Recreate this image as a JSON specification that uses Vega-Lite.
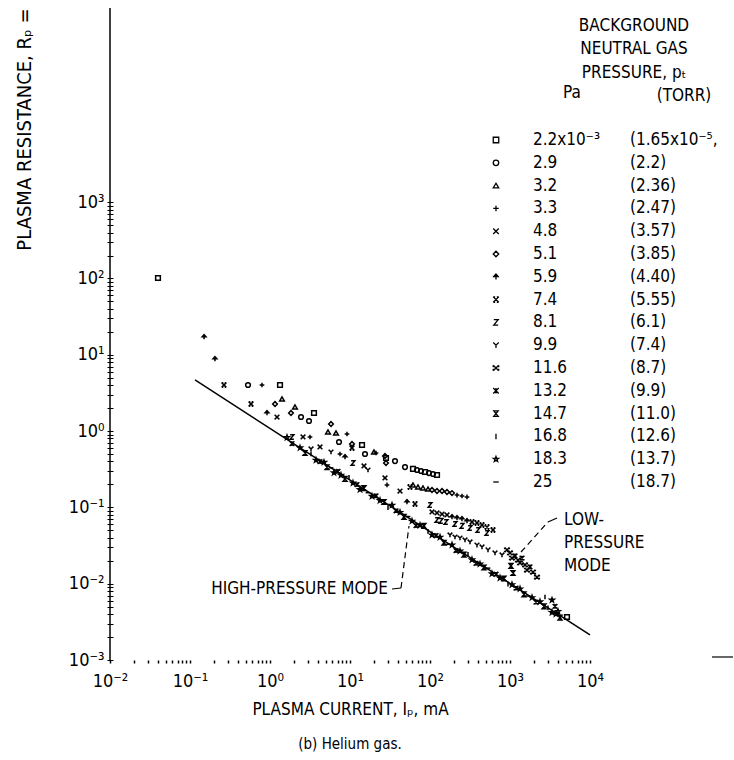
{
  "$schema": "https://vega.github.io/schema/vega-lite/v6.json",
  "width": 480,
  "height": 652,
  "autosize": {"type": "none"},
  "padding": {"left": 110, "top": 8, "right": 144, "bottom": 100},
  "background": "white",
  "title": {"text": "(b) Helium gas.", "orient": "bottom", "anchor": "middle", "fontSize": 15, "fontWeight": "normal", "color": "black", "offset": 20, "font": "DejaVu Sans Condensed, DejaVu Sans, sans-serif"},
  "config": {
    "view": {"stroke": null},
    "font": "DejaVu Sans Condensed, DejaVu Sans, sans-serif",
    "text": {"font": "DejaVu Sans Condensed, DejaVu Sans, sans-serif", "color": "black", "fontSize": 17},
    "axis": {"labelFont": "DejaVu Sans Condensed, DejaVu Sans, sans-serif", "titleFont": "DejaVu Sans Condensed, DejaVu Sans, sans-serif", "labelColor": "black", "titleColor": "black", "grid": false, "titleFontWeight": "normal"}
  },
  "datasets": {
    "points": [
      {"p": "2.2e-3", "I": 0.0398, "R": 101.5}, {"p": "2.2e-3", "I": 1.334, "R": 4.02}, {"p": "2.2e-3", "I": 3.548, "R": 1.727}, {"p": "2.2e-3", "I": 14.13, "R": 0.657}, {"p": "2.2e-3", "I": 28.18, "R": 0.444}, {"p": "2.2e-3", "I": 61.31, "R": 0.319}, {"p": "2.2e-3", "I": 86.6, "R": 0.291}, {"p": "2.2e-3", "I": 122.3, "R": 0.266}, {"p": "2.2e-3", "I": 5158, "R": 0.00366},
      {"p": "2.9", "I": 0.531, "R": 4.02}, {"p": "2.9", "I": 2.441, "R": 1.53}, {"p": "2.9", "I": 3.073, "R": 1.356}, {"p": "2.9", "I": 7.286, "R": 0.72}, {"p": "2.9", "I": 15.4, "R": 0.501}, {"p": "2.9", "I": 36.52, "R": 0.405}, {"p": "2.9", "I": 48.7, "R": 0.338}, {"p": "2.9", "I": 68.79, "R": 0.309}, {"p": "2.9", "I": 77.18, "R": 0.3}, {"p": "2.9", "I": 97.16, "R": 0.282}, {"p": "2.9", "I": 109.0, "R": 0.274},
      {"p": "3.2", "I": 1.413, "R": 2.634}, {"p": "3.2", "I": 2.053, "R": 2.07}, {"p": "3.2", "I": 5.309, "R": 0.973}, {"p": "3.2", "I": 6.683, "R": 0.944}, {"p": "3.2", "I": 19.95, "R": 0.532}, {"p": "3.2", "I": 61.31, "R": 0.197}, {"p": "3.2", "I": 70.79, "R": 0.185}, {"p": "3.2", "I": 81.75, "R": 0.18}, {"p": "3.2", "I": 94.41, "R": 0.174},
      {"p": "3.3", "I": 0.794, "R": 4.02}, {"p": "3.3", "I": 3.162, "R": 0.837}, {"p": "3.3", "I": 9.173, "R": 0.916}, {"p": "3.3", "I": 7.499, "R": 0.501}, {"p": "3.3", "I": 21.13, "R": 0.516}, {"p": "3.3", "I": 29.0, "R": 0.197}, {"p": "3.3", "I": 217.5, "R": 0.145}, {"p": "3.3", "I": 251.2, "R": 0.141}, {"p": "3.3", "I": 290.0, "R": 0.137},
      {"p": "4.8", "I": 1.223, "R": 1.53}, {"p": "4.8", "I": 2.585, "R": 0.837}, {"p": "4.8", "I": 4.217, "R": 0.619}, {"p": "4.8", "I": 14.96, "R": 0.349}, {"p": "4.8", "I": 27.38, "R": 0.243}, {"p": "4.8", "I": 42.17, "R": 0.164}, {"p": "4.8", "I": 105.9, "R": 0.0871}, {"p": "4.8", "I": 122.3, "R": 0.0845}, {"p": "4.8", "I": 141.3, "R": 0.0819}, {"p": "4.8", "I": 163.1, "R": 0.0795},
      {"p": "5.1", "I": 1.155, "R": 2.266}, {"p": "5.1", "I": 1.83, "R": 1.727}, {"p": "5.1", "I": 5.788, "R": 1.239}, {"p": "5.1", "I": 10.59, "R": 0.677}, {"p": "5.1", "I": 27.38, "R": 0.472}, {"p": "5.1", "I": 28.18, "R": 0.382}, {"p": "5.1", "I": 105.9, "R": 0.169}, {"p": "5.1", "I": 122.3, "R": 0.164}, {"p": "5.1", "I": 141.3, "R": 0.164}, {"p": "5.1", "I": 163.1, "R": 0.159}, {"p": "5.1", "I": 188.4, "R": 0.154},
      {"p": "5.9", "I": 0.15, "R": 17.11}, {"p": "5.9", "I": 0.205, "R": 8.81}, {"p": "5.9", "I": 0.917, "R": 1.727}, {"p": "5.9", "I": 8.66, "R": 0.458}, {"p": "5.9", "I": 51.58, "R": 0.1177}, {"p": "5.9", "I": 188.4, "R": 0.0748}, {"p": "5.9", "I": 217.5, "R": 0.0726}, {"p": "5.9", "I": 251.2, "R": 0.0705}, {"p": "5.9", "I": 290.0, "R": 0.0664},
      {"p": "7.4", "I": 0.266, "R": 4.02}, {"p": "7.4", "I": 0.579, "R": 2.266}, {"p": "7.4", "I": 10.59, "R": 0.601}, {"p": "7.4", "I": 56.23, "R": 0.185}, {"p": "7.4", "I": 64.94, "R": 0.1108}, {"p": "7.4", "I": 335.0, "R": 0.0644}, {"p": "7.4", "I": 386.7, "R": 0.0625}, {"p": "7.4", "I": 446.7, "R": 0.0588}, {"p": "7.4", "I": 515.8, "R": 0.0553}, {"p": "7.4", "I": 613.1, "R": 0.0506},
      {"p": "8.1", "I": 1.884, "R": 0.837}, {"p": "8.1", "I": 10.9, "R": 0.382}, {"p": "8.1", "I": 100, "R": 0.1075}, {"p": "8.1", "I": 122.3, "R": 0.0684}, {"p": "8.1", "I": 137.3, "R": 0.0664}, {"p": "8.1", "I": 158.5, "R": 0.0644}, {"p": "8.1", "I": 205.3, "R": 0.0606}, {"p": "8.1", "I": 251.2, "R": 0.0571}, {"p": "8.1", "I": 316.2, "R": 0.0537}, {"p": "8.1", "I": 398.1, "R": 0.0506}, {"p": "8.1", "I": 515.8, "R": 0.0462},
      {"p": "9.9", "I": 3.255, "R": 0.583}, {"p": "9.9", "I": 5.788, "R": 0.532}, {"p": "9.9", "I": 16.79, "R": 0.309}, {"p": "9.9", "I": 177.8, "R": 0.0435}, {"p": "9.9", "I": 205.3, "R": 0.0409}, {"p": "9.9", "I": 237.1, "R": 0.0397}, {"p": "9.9", "I": 273.8, "R": 0.0374}, {"p": "9.9", "I": 316.2, "R": 0.0352}, {"p": "9.9", "I": 386.7, "R": 0.0321}, {"p": "9.9", "I": 446.7, "R": 0.0303}, {"p": "9.9", "I": 530.9, "R": 0.0277}, {"p": "9.9", "I": 649.4, "R": 0.0253}, {"p": "9.9", "I": 794.3, "R": 0.0238},
      {"p": "11.6", "I": 917.3, "R": 0.0277}, {"p": "11.6", "I": 1000, "R": 0.0253}, {"p": "11.6", "I": 1059, "R": 0.0217}, {"p": "11.6", "I": 1259, "R": 0.0204}, {"p": "11.6", "I": 1334, "R": 0.0187}, {"p": "11.6", "I": 1540, "R": 0.0176}, {"p": "11.6", "I": 1631, "R": 0.0151}, {"p": "11.6", "I": 1939, "R": 0.0142}, {"p": "11.6", "I": 2175, "R": 0.0122},
      {"p": "13.2", "I": 1155, "R": 0.0231}, {"p": "13.2", "I": 1413, "R": 0.0217}, {"p": "13.2", "I": 1778, "R": 0.0166},
      {"p": "14.7", "I": 1029, "R": 0.0171}, {"p": "14.7", "I": 1090, "R": 0.0138},
      {"p": "18.3", "I": 1.631, "R": 0.827}, {"p": "13.2", "I": 1.884, "R": 0.685}, {"p": "18.3", "I": 2.371, "R": 0.604}, {"p": "14.7", "I": 2.738, "R": 0.516}, {"p": "16.8", "I": 3.255, "R": 0.503},
      {"p": "18.3", "I": 3.758, "R": 0.417}, {"p": "13.2", "I": 4.217, "R": 0.397}, {"p": "18.3", "I": 4.732, "R": 0.39}, {"p": "14.7", "I": 5.158, "R": 0.336}, {"p": "25", "I": 5.788, "R": 0.33},
      {"p": "18.3", "I": 6.31, "R": 0.285}, {"p": "13.2", "I": 7.079, "R": 0.297}, {"p": "18.3", "I": 7.718, "R": 0.264}, {"p": "14.7", "I": 8.66, "R": 0.237}, {"p": "16.8", "I": 9.716, "R": 0.247},
      {"p": "18.3", "I": 10.9, "R": 0.209}, {"p": "13.2", "I": 12.23, "R": 0.199}, {"p": "18.3", "I": 13.34, "R": 0.1715}, {"p": "14.7", "I": 14.96, "R": 0.179}, {"p": "25", "I": 16.79, "R": 0.156},
      {"p": "18.3", "I": 18.84, "R": 0.14}, {"p": "13.2", "I": 21.13, "R": 0.1417}, {"p": "18.3", "I": 23.71, "R": 0.1234}, {"p": "14.7", "I": 26.61, "R": 0.1177}, {"p": "16.8", "I": 29.85, "R": 0.0994},
      {"p": "18.3", "I": 33.5, "R": 0.1069}, {"p": "13.2", "I": 37.58, "R": 0.0903}, {"p": "18.3", "I": 42.17, "R": 0.0861}, {"p": "14.7", "I": 47.32, "R": 0.075}, {"p": "25", "I": 53.09, "R": 0.076},
      {"p": "18.3", "I": 59.57, "R": 0.0662}, {"p": "13.2", "I": 66.83, "R": 0.0576}, {"p": "18.3", "I": 74.99, "R": 0.0583}, {"p": "14.7", "I": 84.14, "R": 0.0573}, {"p": "16.8", "I": 94.41, "R": 0.0484},
      {"p": "18.3", "I": 105.9, "R": 0.0435}, {"p": "13.2", "I": 118.9, "R": 0.0427}, {"p": "18.3", "I": 133.4, "R": 0.0407}, {"p": "14.7", "I": 149.6, "R": 0.0344}, {"p": "25", "I": 167.9, "R": 0.0328},
      {"p": "18.3", "I": 188.4, "R": 0.0322}, {"p": "13.2", "I": 211.3, "R": 0.0272}, {"p": "18.3", "I": 237.1, "R": 0.0268}, {"p": "14.7", "I": 266.1, "R": 0.024}, {"p": "16.8", "I": 298.5, "R": 0.0243},
      {"p": "18.3", "I": 335.0, "R": 0.0206}, {"p": "13.2", "I": 375.8, "R": 0.0185}, {"p": "18.3", "I": 421.7, "R": 0.0181}, {"p": "14.7", "I": 473.2, "R": 0.0163}, {"p": "25", "I": 530.9, "R": 0.016},
      {"p": "18.3", "I": 595.7, "R": 0.0135}, {"p": "13.2", "I": 668.3, "R": 0.0133}, {"p": "18.3", "I": 749.9, "R": 0.0119}, {"p": "14.7", "I": 841.4, "R": 0.0117}, {"p": "16.8", "I": 944.1, "R": 0.00989},
      {"p": "18.3", "I": 1059, "R": 0.00972}, {"p": "13.2", "I": 1189, "R": 0.00872}, {"p": "18.3", "I": 1334, "R": 0.00857}, {"p": "14.7", "I": 1496, "R": 0.00724}, {"p": "25", "I": 1679, "R": 0.0069},
      {"p": "18.3", "I": 1884, "R": 0.00658}, {"p": "13.2", "I": 2113, "R": 0.00573}, {"p": "18.3", "I": 2371, "R": 0.0058}, {"p": "14.7", "I": 2661, "R": 0.00505}, {"p": "16.8", "I": 2985, "R": 0.00482},
      {"p": "18.3", "I": 3350, "R": 0.0042}, {"p": "13.2", "I": 3652, "R": 0.00504}, {"p": "18.3", "I": 3758, "R": 0.004}, {"p": "18.3", "I": 3981, "R": 0.00434}, {"p": "14.7", "I": 4217, "R": 0.00359},
      {"p": "18.3", "I": 3350, "R": 0.00611}, {"p": "16.8", "I": 2738, "R": 0.00669}
    ],
    "fit": [{"I": 0.1155, "R": 4.675}, {"I": 10000, "R": 0.002127}],
    "legend": [
      {"k": 0, "p": "2.2e-3", "pa": "2.2x10⁻³", "torr": "(1.65x10⁻⁵,"},
      {"k": 1, "p": "2.9", "pa": "2.9", "torr": "(2.2)"},
      {"k": 2, "p": "3.2", "pa": "3.2", "torr": "(2.36)"},
      {"k": 3, "p": "3.3", "pa": "3.3", "torr": "(2.47)"},
      {"k": 4, "p": "4.8", "pa": "4.8", "torr": "(3.57)"},
      {"k": 5, "p": "5.1", "pa": "5.1", "torr": "(3.85)"},
      {"k": 6, "p": "5.9", "pa": "5.9", "torr": "(4.40)"},
      {"k": 7, "p": "7.4", "pa": "7.4", "torr": "(5.55)"},
      {"k": 8, "p": "8.1", "pa": "8.1", "torr": "(6.1)"},
      {"k": 9, "p": "9.9", "pa": "9.9", "torr": "(7.4)"},
      {"k": 10, "p": "11.6", "pa": "11.6", "torr": "(8.7)"},
      {"k": 11, "p": "13.2", "pa": "13.2", "torr": "(9.9)"},
      {"k": 12, "p": "14.7", "pa": "14.7", "torr": "(11.0)"},
      {"k": 13, "p": "16.8", "pa": "16.8", "torr": "(12.6)"},
      {"k": 14, "p": "18.3", "pa": "18.3", "torr": "(13.7)"},
      {"k": 15, "p": "25", "pa": "25", "torr": "(18.7)"}
    ]
  },
  "layer": [
    {
      "layer": [
        {
          "data": {"name": "points"},
          "mark": {"type": "point", "filled": false, "stroke": "black", "strokeWidth": 1.5, "size": 22, "opacity": 1},
          "encoding": {
            "x": {
              "field": "I", "type": "quantitative",
              "scale": {"type": "log", "domain": [0.01, 10000], "nice": false},
              "axis": {
                "values": [0.01, 0.02, 0.03, 0.04, 0.05, 0.06, 0.07, 0.08, 0.09, 0.1, 0.2, 0.3, 0.4, 0.5, 0.6, 0.7, 0.8, 0.9, 1, 2, 3, 4, 5, 6, 7, 8, 9, 10, 20, 30, 40, 50, 60, 70, 80, 90, 100, 200, 300, 400, 500, 600, 700, 800, 900, 1000, 2000, 3000, 4000, 5000, 6000, 7000, 8000, 9000, 10000],
                "labelExpr": "datum.value == 0.01 ? '10⁻²' : datum.value == 0.1 ? '10⁻¹' : datum.value == 1 ? '10⁰' : datum.value == 10 ? '10¹' : datum.value == 100 ? '10²' : datum.value == 1000 ? '10³' : datum.value == 10000 ? '10⁴' : ''",
                "domain": false, "tickSize": 3, "tickWidth": 1.5, "tickColor": "black",
                "labelFontSize": 18, "labelPadding": 9, "labelOverlap": false, "labelFlush": false,
                "title": "PLASMA CURRENT, Iₚ, mA", "titleFontSize": 17, "titlePadding": 11
              }
            },
            "y": {
              "field": "R", "type": "quantitative",
              "scale": {"type": "log", "domain": [0.001, 350800], "nice": false},
              "axis": {
                "values": [0.001, 0.002, 0.003, 0.004, 0.005, 0.006, 0.007, 0.008, 0.009, 0.01, 0.02, 0.03, 0.04, 0.05, 0.06, 0.07, 0.08, 0.09, 0.1, 0.2, 0.3, 0.4, 0.5, 0.6, 0.7, 0.8, 0.9, 1, 2, 3, 4, 5, 6, 7, 8, 9, 10, 20, 30, 40, 50, 60, 70, 80, 90, 100, 200, 300, 400, 500, 600, 700, 800, 900, 1000],
                "labelExpr": "datum.value == 0.001 ? '10⁻³' : datum.value == 0.01 ? '10⁻²' : datum.value == 0.1 ? '10⁻¹' : datum.value == 1 ? '10⁰' : datum.value == 10 ? '10¹' : datum.value == 100 ? '10²' : datum.value == 1000 ? '10³' : ''",
                "domain": false, "offset": -3, "tickSize": 6, "tickWidth": 1, "tickColor": "black",
                "labelFontSize": 18, "labelPadding": 3, "labelOverlap": false, "labelFlush": false,
                "title": "PLASMA RESISTANCE, Rₚ =", "titleFontSize": 20, "titleAnchor": "end", "titlePadding": 34
              }
            },
            "shape": {
              "field": "p", "type": "nominal", "legend": null,
              "scale": {
                "domain": ["2.2e-3", "2.9", "3.2", "3.3", "4.8", "5.1", "5.9", "7.4", "8.1", "9.9", "11.6", "13.2", "14.7", "16.8", "18.3", "25"],
                "range": [
                  "square",
                  "circle",
                  "triangle-up",
                  "M-1,0H1M0,-1V1",
                  "M-1,-1L1,1M-1,1L1,-1",
                  "diamond",
                  "M0,1V-1M-0.8,-0.1L0,-1L0.8,-0.1Z",
                  "M-1,-1L1,1M-1,1L1,-1M-1,-1H-0.3M0.3,-1H1M-1,1H-0.3M0.3,1H1",
                  "M-0.8,-1H0.8L-0.8,1H0.8",
                  "M-1,-1L0,0L1,-1M0,0V1",
                  "M-1,-1L1,1M-1,1L1,-1M-1,-1V-0.3M1,-1V-0.3M-1,1V0.3M1,1V0.3",
                  "M-1,-1L1,1M-1,1L1,-1M0,-1V1",
                  "M-0.8,-1H0.8L-0.8,1H0.8Z",
                  "M0,-1V1",
                  "M0,-1L0.235,-0.324L0.951,-0.309L0.38,0.124L0.588,0.809L0,0.4L-0.588,0.809L-0.38,0.124L-0.951,-0.309L-0.235,-0.324Z",
                  "M-1,0H1"
                ]
              }
            }
          }
        },
        {
          "data": {"name": "fit"},
          "mark": {"type": "line", "color": "black", "strokeWidth": 1.5},
          "encoding": {
            "x": {"field": "I", "type": "quantitative"},
            "y": {"field": "R", "type": "quantitative"}
          }
        },
        {
          "data": {"values": [{}]},
          "mark": {"type": "rule", "color": "black", "strokeWidth": 1.5},
          "encoding": {
            "x": {"datum": 0.01},
            "y": {"datum": 0.001},
            "y2": {"datum": 350800}
          }
        },
        {
          "data": {"values": [{}]},
          "mark": {"type": "rule", "color": "black", "strokeWidth": 1.2},
          "encoding": {
            "x": {"datum": 334965},
            "x2": {"datum": 613000},
            "y": {"datum": 0.001095}
          }
        },
        {
          "data": {"values": [{}]},
          "mark": {"type": "text", "align": "right", "baseline": "middle", "fontSize": 17, "text": "HIGH-PRESSURE MODE"},
          "encoding": {
            "x": {"datum": 29.85},
            "y": {"datum": 0.00852}
          }
        },
        {
          "data": {"values": [{}]},
          "mark": {"type": "rule", "color": "black", "strokeWidth": 1.2},
          "encoding": {
            "x": {"datum": 33.5},
            "x2": {"datum": 43.4},
            "y": {"datum": 0.00852},
            "y2": {"datum": 0.00879}
          }
        },
        {
          "data": {"values": [{}]},
          "mark": {"type": "rule", "color": "black", "strokeWidth": 1.2, "strokeDash": [6, 4]},
          "encoding": {
            "x": {"datum": 43.4},
            "x2": {"datum": 54.6},
            "y": {"datum": 0.00879},
            "y2": {"datum": 0.0571}
          }
        },
        {
          "data": {"values": [{}]},
          "mark": {"type": "rule", "color": "black", "strokeWidth": 1.2, "strokeDash": [6, 4]},
          "encoding": {
            "x": {"datum": 1373},
            "x2": {"datum": 2985},
            "y": {"datum": 0.02603},
            "y2": {"datum": 0.0644}
          }
        },
        {
          "data": {"values": [{}]},
          "mark": {"type": "rule", "color": "black", "strokeWidth": 1.2},
          "encoding": {
            "x": {"datum": 2985},
            "x2": {"datum": 3868},
            "y": {"datum": 0.0644},
            "y2": {"datum": 0.0726}
          }
        },
        {
          "data": {"values": [{}]},
          "mark": {"type": "text", "align": "left", "baseline": "middle", "fontSize": 17, "lineHeight": 23, "text": ["LOW-", "PRESSURE", "MODE"]},
          "encoding": {
            "x": {"datum": 4732},
            "y": {"datum": 0.0684}
          }
        }
      ]
    },
    {
      "layer": [
        {
          "data": {"name": "legend"},
          "mark": {"type": "point", "filled": false, "stroke": "black", "strokeWidth": 1.3, "size": 30, "opacity": 1},
          "encoding": {
            "x": {"datum": 668},
            "y": {"field": "k", "type": "quantitative", "scale": {"domain": [-5.789, 22.807], "reverse": true, "nice": false, "zero": false}, "axis": null},
            "shape": {"field": "p", "type": "nominal", "legend": null}
          }
        },
        {
          "data": {"name": "legend"},
          "mark": {"type": "text", "align": "left", "baseline": "middle", "fontSize": 17},
          "encoding": {
            "x": {"datum": 1939},
            "y": {"field": "k", "type": "quantitative", "axis": null},
            "text": {"field": "pa"}
          }
        },
        {
          "data": {"name": "legend"},
          "mark": {"type": "text", "align": "left", "baseline": "middle", "fontSize": 17},
          "encoding": {
            "x": {"datum": 31623},
            "y": {"field": "k", "type": "quantitative", "axis": null},
            "text": {"field": "torr"}
          }
        },
        {
          "data": {"values": [{}]},
          "mark": {"type": "text", "align": "center", "baseline": "middle", "fontSize": 17, "lineHeight": 23.5, "text": ["BACKGROUND", "NEUTRAL GAS", "PRESSURE, pₜ"]},
          "encoding": {
            "x": {"datum": 35481},
            "y": {"datum": -5, "axis": null}
          }
        },
        {
          "data": {"values": [{}]},
          "mark": {"type": "text", "align": "center", "baseline": "middle", "fontSize": 17, "text": "Pa"},
          "encoding": {
            "x": {"datum": 5957},
            "y": {"datum": -2.05, "axis": null}
          }
        },
        {
          "data": {"values": [{}]},
          "mark": {"type": "text", "align": "center", "baseline": "middle", "fontSize": 17, "text": "(TORR)"},
          "encoding": {
            "x": {"datum": 149624},
            "y": {"datum": -1.95, "axis": null}
          }
        }
      ]
    }
  ],
  "resolve": {"scale": {"y": "independent"}}
}
